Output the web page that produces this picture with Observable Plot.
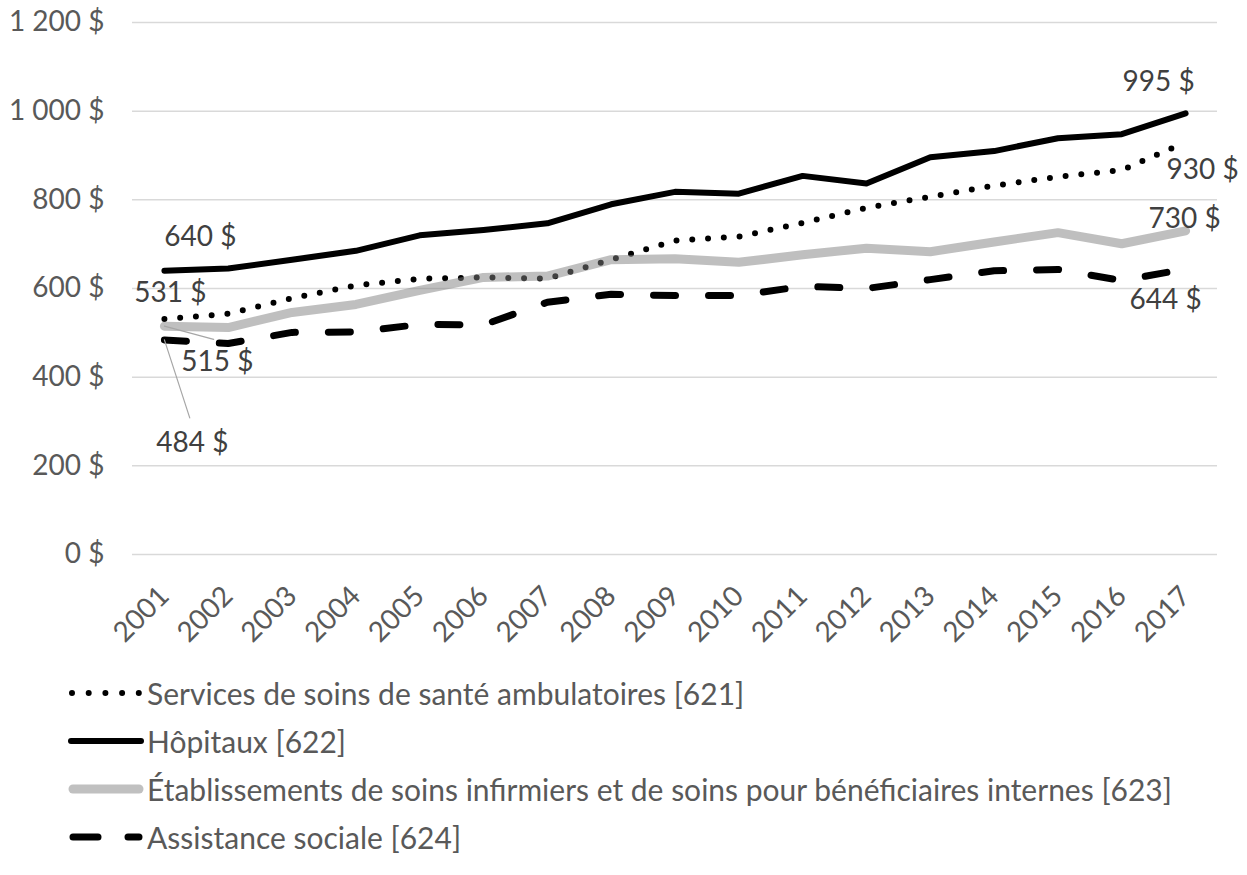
<!DOCTYPE html>
<html>
<head>
<meta charset="utf-8">
<script src="https://cdn.jsdelivr.net/npm/d3@7"></script>
<script src="https://cdn.jsdelivr.net/npm/@observablehq/plot@0.6"></script>
<style>
  body { margin: 0; background: #fff; font-family: Lato, "Open Sans", sans-serif; }
  #legend { padding-top: 9px; color: #595959; font-size: 30px; }
  .row { height: 48px; display: flex; align-items: center; }
  .row svg { margin-left: 68px; margin-right: 3px; flex: none; }
</style>
</head>
<body>
<div id="chart"></div>
<div id="legend"></div>
<script>
const years = [2001,2002,2003,2004,2005,2006,2007,2008,2009,2010,2011,2012,2013,2014,2015,2016,2017];
const ambulatory = [531,543,578,607,622,625,622,665,708,717,748,782,807,832,852,867,930];
const hospitals  = [640,645,665,685,720,732,747,790,818,814,854,837,896,910,939,948,995];
const nursing    = [515,512,546,564,596,625,628,665,667,659,676,691,683,705,726,701,730];
const social     = [484,476,501,502,519,518,569,587,584,584,605,600,620,640,643,618,644];
const seriesNames = [
  "Services de soins de santé ambulatoires [621]",
  "Hôpitaux [622]",
  "Établissements de soins infirmiers et de soins pour bénéficiaires internes [623]",
  "Assistance sociale [624]"
];
const yTicks = [0,200,400,600,800,1000,1200];

const rows = (vals) => years.map((y, i) => ({year: y, value: vals[i]}));
const A = rows(ambulatory), H = rows(hospitals), N = rows(nursing), S = rows(social);
const first = d => [d[0]];
const last = d => [d[d.length - 1]];

const fmtNum = d3.formatLocale({decimal: ",", thousands: "\u00a0", grouping: [3], currency: ["", ""]}).format(",");
const fmt = v => fmtNum(v) + "\u00a0$";

const lineShape = { draw(ctx, l) { ctx.moveTo(0, 0); ctx.lineTo(0, -l); } };
const labelStyle = { fill: "#404040", fontSize: 28, text: d => fmt(d.value) };

const chart = Plot.plot({
  width: 1247,
  height: 660,
  marginLeft: 132,
  marginRight: 30,
  marginTop: 22,
  marginBottom: 106,
  style: { fontFamily: "Lato, 'Open Sans', sans-serif", fontSize: "28px", color: "#595959", background: "#fff" },
  x: { type: "linear", domain: [2000.5, 2017.5], label: null },
  y: { domain: [0, 1200], label: null },
  marks: [
    Plot.gridY(yTicks, { stroke: "#d9d9d9", strokeOpacity: 1, strokeWidth: 1.5 }),
    Plot.axisX({ ticks: years, tickFormat: d => String(d), tickRotate: -45, tickSize: 0, tickPadding: 37, fontSize: 28, label: null }),
    Plot.axisY({ ticks: yTicks, tickFormat: fmt, tickSize: 0, tickPadding: 28, fontSize: 28, label: null }),
    Plot.lineY(A, { x: "year", y: "value", stroke: "#000", strokeWidth: 6, strokeDasharray: "0 15.8", strokeLinecap: "round" }),
    Plot.lineY(H, { x: "year", y: "value", stroke: "#000", strokeWidth: 6, strokeLinejoin: "round" }),
    Plot.lineY(N, { x: "year", y: "value", stroke: "#808080", strokeOpacity: 0.5, strokeWidth: 9, strokeLinejoin: "round", strokeLinecap: "round" }),
    Plot.lineY(S, { x: "year", y: "value", stroke: "#000", strokeWidth: 7, strokeDasharray: "22 33", strokeLinecap: "round", strokeLinejoin: "round" }),
    // leader lines
    Plot.vector(first(N), { x: "year", y: "value", length: 51, rotate: 105, anchor: "start", shape: lineShape, stroke: "#a6a6a6", strokeWidth: 1.2 }),
    Plot.vector(first(S), { x: "year", y: "value", length: 82, rotate: 162, anchor: "start", shape: lineShape, stroke: "#a6a6a6", strokeWidth: 1.2 }),
    // data labels
    Plot.text(first(H), { x: "year", y: "value", dx: 36, dy: -34, ...labelStyle }),
    Plot.text(first(A), { x: "year", y: "value", dx: 6, dy: -26, ...labelStyle }),
    Plot.text(first(N), { x: "year", y: "value", dx: 53, dy: 36, ...labelStyle }),
    Plot.text(first(S), { x: "year", y: "value", dx: 28, dy: 103, ...labelStyle }),
    Plot.text(last(H), { x: "year", y: "value", dx: -27, dy: -31, ...labelStyle }),
    Plot.text(last(A), { x: "year", y: "value", dx: 17, dy: 28, ...labelStyle }),
    Plot.text(last(N), { x: "year", y: "value", dx: -1, dy: -12, ...labelStyle }),
    Plot.text(last(S), { x: "year", y: "value", dx: -20, dy: 31, ...labelStyle })
  ]
});
document.getElementById("chart").appendChild(chart);

// legend
const swatches = [
  `<line x1="4" y1="10" x2="71" y2="10" stroke="#000" stroke-width="6" stroke-linecap="round" stroke-dasharray="0 16.7"/>`,
  `<line x1="3" y1="10" x2="73" y2="10" stroke="#000" stroke-width="6" stroke-linecap="round"/>`,
  `<line x1="5" y1="10" x2="71" y2="10" stroke="#c0c0c0" stroke-width="9" stroke-linecap="round"/>`,
  `<line x1="5" y1="10" x2="71" y2="10" stroke="#000" stroke-width="7" stroke-linecap="round" stroke-dasharray="25 30"/>`
];
const legend = d3.select("#legend");
seriesNames.forEach((name, i) => {
  const row = legend.append("div").attr("class", "row");
  row.append("svg").attr("width", 76).attr("height", 20).html(swatches[i]);
  row.append("span").text(name);
});
</script>
</body>
</html>
